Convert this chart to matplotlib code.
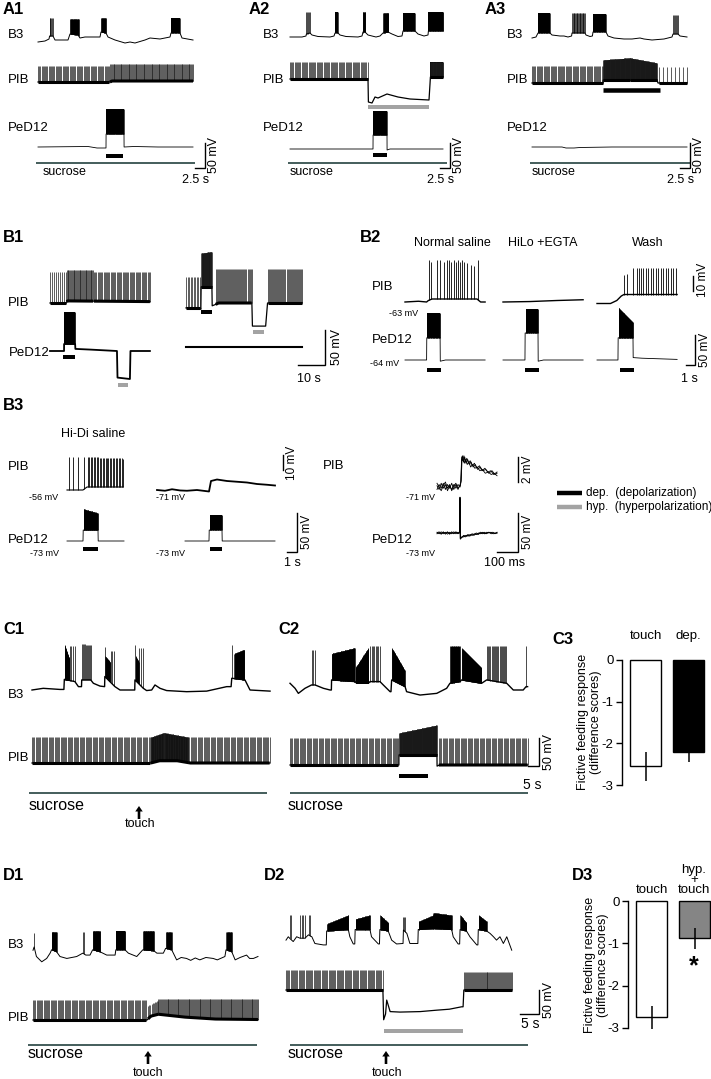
import numpy as np
import matplotlib
matplotlib.use('Agg')
import matplotlib.pyplot as plt

plt.rcParams['font.family'] = ['Liberation Sans', 'DejaVu Sans']
plt.rcParams['axes.unicode_minus'] = False

W, H = 711, 1079

# ===================== DATA =====================
# traces: knots = (time, potential rel. rest); bursts = (t_start, t_end, peak_start, peak_end, n_spikes)
# ---- A (s, mV)
A1_B3 = [(0,-2),(1.75,0),(2.75,4),(2.9,10),(3.75,10),(4.25,2),(7.5,2),(8,14),(10,12),(10.5,6),(11.75,8),(15.5,8),(15.75,18),(17,16),(17.5,8),(19.25,2),(21.75,-4),(23,-2),(24.25,-4),(25.5,-1),(26.75,2),(28,6),(30.5,4),(33,8),(33.25,16),(35.5,16),(36,6),(38.75,2)]
A1_B3_b = [(2.9,3.7,46,46,5),(8,10.2,44,44,16),(15.75,17,46,46,10),(33.25,35.5,46,46,16)]
A1_PIB = [(0,0),(18,0),(18.5,2),(38.75,2)]
A1_PIB_b = [(0,17.8,32,32,62),(18,38.75,36,36,95)]
A1_PeD = [(0,0),(12.5,1),(14.75,-2),(17,-2),(17.02,26),(21.5,26),(21.52,0),(24,1),(30,0),(38.75,0)]
A1_PeD_b = [(17.1,21.4,76,76,50)]
A2_B3 = [(0,0),(3,0),(4,2),(4.1,6),(5.0,8),(5.5,4),(7,1),(10,0),(11,2),(11.25,8),(12,8),(12.5,4),(14,1),(17,0),(18,2),(18.25,10),(18.75,10),(19.5,4),(21.5,0),(22.5,2),(23.25,8),(24.5,10),(25.5,6),(27,1),(28,2),(28.25,12),(31.25,12),(32,6),(33.5,2),(34.5,4),(34.6,12),(38.25,12)]
A2_B3_b = [(4.1,4.9,50,50,5),(11.3,12,50,50,5),(18.2,18.8,50,50,5),(23.3,24.6,48,48,12),(28.3,31.2,48,48,28),(34.6,38.25,50,50,36)]
A2_PIB = [(0,0),(19.5,0),(19.6,-46),(20.5,-48),(21.25,-36),(22,-38),(24.25,-30),(27,-36),(30,-40),(34.75,-42),(35,-10),(35.1,4),(38.25,4)]
A2_PIB_b = [(0,19.4,34,34,68),(35.1,38.25,34,34,30)]
A2_PeD = [(0,0),(20.75,0),(20.77,28),(24.25,28),(24.27,-2),(25,0),(38.25,0)]
A2_PeD_b = [(20.8,24.2,76,76,40)]
A3_B3 = [(0,-2),(1,0),(1.5,8),(4.5,8),(5,4),(7,2),(8,2),(9,0),(9.9,2),(10,8),(13.25,8),(13.5,4),(14.5,1),(15.1,2),(15.25,10),(18.5,10),(19,2),(20.5,-2),(23,-4),(25,-4),(27,-2),(28,-4),(30,-6),(33,-4),(34,-2),(35,0),(35.25,6),(36.5,6),(37,2),(38.75,0)]
A3_B3_b = [(1.5,4.5,48,48,20),(10,13.25,48,48,18),(15.25,18.5,46,46,22),(35.25,36.5,44,44,6)]
A3_PIB = [(0,0),(17.75,0),(17.8,6),(31.25,6),(31.5,0),(38.75,0)]
A3_PIB_b = [(0,17.7,34,34,62),(17.8,24.5,46,50,60),(24.5,31.2,50,40,60),(31.8,38.75,32,32,8)]
A3_PeD = [(0,0),(7.5,0),(8.5,-2),(10.5,-2),(12,-1),(20,0),(38.75,0)]

# ---- B1 (s, mV)
B1L_PIB = [(0,0),(6,0),(6.3,3),(37,2)]
B1L_PIB_b = [(0,5.9,44,44,9),(6.2,16,47,47,32),(16.3,37,44,44,48)]
B1L_PeD = [(0,0),(5.2,0),(5.22,10),(9.3,10),(9.4,3),(15,2),(24.8,0),(25,-38),(29.6,-40),(29.8,0),(37,0)]
B1L_PeD_b = [(5.3,9.2,56,56,25)]
B1R_PIB = [(0,-7),(5.2,-7),(5.5,-9),(5.6,23),(9.6,23),(9.7,-4),(11,-2),(12,0),(24.4,0),(24.6,-33),(29.5,-33),(30.2,0),(43,0)]
B1R_PIB_b = [(0,5.1,37,37,10),(5.7,9.5,71,73,30),(11,24.3,49,49,36),(30.3,43,49,49,34)]
B1R_PeD = [(0,0),(43,0)]

# ---- B2 (s, mV)
B2N_PIB = [(0,0),(1.5,0.5),(2.4,0),(2.6,1),(3,2),(8,2),(8.4,0),(8.9,0)]
B2N_PIB_spk = [2.67,2.89,3.56,3.89,4.33,4.67,4.89,5.11,5.44,5.67,5.89,6.11,6.33,6.56,6.89,7.33,7.67,8.11]
B2N_PIB_pk = [28,27,28,28,27,28,28,27,28,27,28,27,28,27,26,25,24,28]
B2H_PIB = [(0,0),(3,0.3),(6,1),(8.9,1.5)]
B2W_PIB = [(0,-1),(1.5,-1),(2.2,1),(2.7,4),(3.0,5),(8.9,5)]
B2W_PIB_spk = [3.0,3.33,4.0,4.44,4.67,4.89,5.11,5.44,5.67,6.0,6.22,6.56,6.78,7.11,7.33,7.67,7.89,8.22,8.44,8.78]
B2W_PIB_pk = [18,19,23,23,23,23,23,23,23,23,23,23,23,23,23,23,23,23,23,23]
B2N_PeD = [(0,0),(2.4,0),(2.42,37),(3.9,37),(3.92,-2),(4.5,0),(8.9,0)]
B2N_PeD_b = [(2.45,3.87,78,78,22)]
B2H_PeD = [(0,0),(2.44,0),(2.46,45),(3.89,45),(3.91,-2),(4.5,0),(8.9,0)]
B2H_PeD_b = [(2.5,3.86,85,85,20)]
B2W_PeD = [(0,0),(2.33,0),(2.35,37),(4.0,37),(4.02,4),(5,3),(8.9,1)]
B2W_PeD_b = [(2.4,3.97,87,63,24)]

# ---- B3 (s, mV) and right (ms, mV)
B3L_PIB = [(0,0),(1.6,0),(2.0,2),(5.6,2)]
B3L_PIB_b = [(0.2,0.2,22,22,1),(0.6,0.6,22,22,1),(1.1,1.1,22,22,1),(1.7,1.7,22,22,1),(2.1,5.6,22,21,25)]
B3M_PIB = [(0,0),(0.8,-0.5),(1.5,0.5),(2.3,-0.3),(3,-0.5),(4,0),(5.2,-1),(5.4,6),(6,7),(7,6),(8,5.5),(9,5),(10,4),(11,3.5),(11.8,3)]
B3L_PeD = [(0,0),(1.6,0),(1.62,14),(3.1,14),(3.12,0),(5.7,0)]
B3L_PeD_b = [(1.65,3.05,41,36,22)]
B3M_PeD = [(2.8,0),(5.2,0),(5.22,14),(6.5,14),(6.52,0),(11.8,0)]
B3M_PeD_b = [(5.25,6.45,33,33,20)]
B3R_PIB_sweeps = [
    [(0,0.1),(10,-0.2),(20,0.3),(30,-0.1),(40,0.2),(50,-0.3),(60,0.1),(70,-0.2),(80,0.2),(90,-0.1),(100,0.2),(110,0),(113,0.3),(117,2.2),(121,2.5),(126,2.0),(132,2.4),(138,1.9),(146,2.2),(154,1.8),(162,2.0),(172,1.6),(182,1.8),(194,1.4),(206,1.6),(218,1.3),(232,1.4),(246,1.1),(262,1.3),(276,1.0),(286,1.1)],
    [(0,-0.2),(10,0.2),(20,-0.1),(30,0.3),(40,-0.2),(50,0.2),(60,-0.1),(70,0.3),(80,-0.2),(90,0.2),(100,-0.1),(110,0.1),(114,0.4),(118,2.4),(123,2.1),(128,2.5),(135,2.0),(142,2.3),(150,1.9),(158,2.1),(168,1.7),(178,1.9),(190,1.5),(202,1.7),(214,1.3),(228,1.5),(242,1.2),(256,1.3),(270,1.0),(286,1.2)],
    [(0,0.3),(10,0),(20,-0.3),(30,0.1),(40,0.4),(50,-0.1),(60,0.2),(70,-0.3),(80,0.1),(90,0.3),(100,-0.2),(110,0.2),(115,0.5),(119,2.1),(124,2.3),(130,1.9),(136,2.2),(144,1.8),(152,2.0),(160,1.6),(170,1.8),(180,1.5),(192,1.6),(204,1.3),(216,1.4),(230,1.1),(244,1.2),(258,1.0),(272,1.1),(286,0.9)]]
B3R_PeD_sweeps = [
    [(0,0),(10,1.5),(20,-1),(30,1.5),(40,-1.5),(50,1),(60,-1),(70,1.5),(80,-1),(90,1),(100,-1),(108,0.5),(109.5,46),(111,-8),(116,-6),(126,-4),(136,-5),(146,-3),(156,-4),(166,-2),(176,-3),(186,-1),(196,-2),(206,0),(216,-1),(226,1),(236,-1),(246,1),(256,0),(266,1),(276,-1),(286,1)],
    [(0,1),(10,-1),(20,1.5),(30,-1),(40,1),(50,-1.5),(60,1),(70,-1),(80,1.5),(90,-1),(100,1),(108,0),(109.5,44),(111,-7),(118,-5),(128,-5),(138,-3),(148,-4),(158,-2),(168,-3),(178,-1),(188,-2),(198,0),(208,-1),(218,1),(228,-1),(238,0),(248,1),(258,-1),(268,0),(286,0)],
    [(0,-1),(10,0.5),(20,-1.5),(30,1),(40,-0.5),(50,1.5),(60,-1.5),(70,0.5),(80,-0.5),(90,1.5),(100,-0.5),(108,1),(109.5,45),(111,-7),(117,-6),(127,-3),(137,-4),(147,-2),(157,-3),(167,-1),(177,-2),(187,0),(197,-1),(207,1),(217,0),(227,-1),(237,1),(247,0),(257,1),(267,-1),(286,0)]]

# ---- C (s, mV)
C1_B3 = [(0,0),(5.1,3),(12.7,1),(14.5,1),(14.7,19),(19.5,15),(21.1,6),(22.5,6),(22.6,18),(26.7,18),(27.9,12),(30.9,7),(33,6),(33.1,24),(37.7,6),(40,0),(46.7,0),(46.8,18),(50.6,3),(52.1,-1),(54.4,0),(55.9,9),(58.2,3),(61.2,-1),(70.3,-3),(79.4,-2),(88.5,6),(90.5,6),(90.8,21),(96.8,18),(99.1,0),(108.2,-2)]
C1_B3_b = [(14.8,17,80,55,25),(17.2,19.4,78,78,4),(22.7,26.6,82,80,10),(33.2,33.2,77,77,1),(33.4,35.5,60,50,15),(35.7,37.3,70,70,3),(46.9,46.9,80,80,1),(47.1,48.5,60,50,12),(48.7,50.3,75,75,3),(90.9,90.9,80,80,1),(92,96.5,65,72,25)]
C1_PIB = [(0,0),(54,0),(58,4),(66,4),(72,0),(108,0)]
C1_PIB_b = [(0,53.5,46,46,100),(54,60,46,54,20),(60,71,54,46,35),(71,108,46,46,70)]
C2_B3 = [(0,12),(2.3,3),(3.8,-6),(6.8,3),(9.8,9),(11.4,9),(15.2,3),(18.2,0),(18.8,0),(18.9,18),(29.5,15),(30.3,12),(35.6,12),(36.4,15),(40.9,15),(42.4,9),(45.5,-3),(45.9,-3),(46.2,18),(52.3,6),(53,-3),(59.1,-9),(66.7,-6),(71.2,3),(72.7,12),(77.3,15),(78,18),(87.1,12),(89.4,18),(98.5,12),(101.5,0),(106,0),(107.3,6),(108,6)]
C2_B3_b = [(9.8,11.4,72,72,3),(19,29.4,65,75,60),(29.8,35.6,40,75,35),(36.5,40.8,78,78,8),(46.3,52.2,75,35,30),(72.8,77.2,78,78,15),(78.1,87,75,40,40),(89.5,98.4,78,78,18),(107.3,107.3,78,78,1)]
C2_PIB = [(0,0),(49.5,0),(49.52,18),(66.8,18),(66.85,-2),(68,0),(108,0)]
C2_PIB_b = [(0,49.3,48,48,92),(49.6,66.7,57,71,80),(67.7,108,48,48,75)]

# ---- D (s, mV)
D1_B3 = [(0,14),(0.3,21),(0.9,1),(2.3,-10),(3.6,-3),(4.5,8),(4.9,15),(6.2,11),(7.1,1),(8.9,-3),(11.5,1),(13.1,8),(13.9,4),(15,4),(15.7,15),(17.6,11),(19.4,4),(21.6,4),(21.8,15),(24.2,15),(25.1,8),(27.3,1),(28.9,15),(31.8,13),(32.6,8),(34.3,8),(34.9,18),(36.5,15),(37.8,-6),(39,-1),(40.4,-3),(41.5,-7),(42.7,-2),(43.9,-6),(45.5,-1),(47.4,-3),(48.5,-6),(50.5,1),(50.8,15),(52.3,11),(53.2,-6),(54.5,-1),(56.2,4),(57,-3),(58,-3),(59.2,1)]
D1_B3_b = [(0.2,0.2,50,50,1),(4.9,6.2,52,52,12),(13.1,13.5,52,52,2),(15.8,17.6,54,54,20),(21.9,24.2,54,54,22),(29,31.8,54,54,28),(35,36.5,52,52,10),(50.9,52.3,52,52,10)]
D1_PIB = [(0,0),(30,0),(31,8),(33,12),(40,6),(48,2),(59.2,1)]
D1_PIB_b = [(0,29.8,42,42,98),(30.3,33,30,40,10),(33,59.2,44,44,110)]
D2_B3 = [(0,6),(0.6,13),(1.2,8),(1.9,3),(2.8,13),(3.7,10),(5.0,10),(5.9,17),(6.3,15),(6.8,13),(7.6,-1),(9.8,-4),(10.6,-4),(10.7,25),(16.4,28),(16.8,13),(17.7,-2),(18.1,-2),(18.2,28),(22.1,28),(22.5,13),(24.3,-2),(24.6,-2),(24.7,28),(26.9,25),(27.8,6),(29.1,-2),(30.8,-1),(30.9,27),(31.8,20),(32.6,-1),(34.7,-1),(34.8,28),(38.8,30),(43.6,28),(44.0,13),(45.3,-2),(45.7,-2),(45.8,28),(47.5,25),(48.4,13),(50.2,-4),(50.5,-4),(50.6,28),(52.8,25),(53.7,20),(54.6,13),(55.4,6),(56.3,13),(57.2,-1),(58.1,13),(59.4,-15)]
D2_B3_b = [(1.0,1.2,58,58,2),(3.7,5.0,58,58,4),(6.0,6.3,58,58,2),(10.8,16.4,40,58,45),(18.3,22.1,50,58,30),(24.8,26.9,58,42,20),(30.9,31.4,55,55,3),(34.9,38.8,45,58,30),(38.8,43.6,63,58,35),(45.9,47.5,58,42,15),(50.7,52.8,58,45,18)]
D2_PIB = [(0,0),(25.5,0),(25.7,-62),(26.2,-50),(26.5,-21),(27.4,-45),(30,-46),(35.3,-45),(39.7,-42),(43,-40),(46.2,-35),(46.6,-35),(46.8,0),(59.4,0)]
D2_PIB_b = [(0,25.4,42,42,85),(46.9,59.4,38,38,50)]

# ---- bar charts
C3_groups = ['touch', 'dep.']
C3_means = [-2.55, -2.2]
C3_sem = [0.35, 0.25]
D3_groups = ['touch', 'hyp.\n+\ntouch']
D3_means = [-2.75, -0.88]
D3_sem = [0.27, 0.25]
yticks = [0, -1, -2, -3]
ytick_labels = ['0', '-1', '-2', '-3']

# ===================== DRAWING =====================
fig = plt.figure(figsize=(W/100, H/100), dpi=100)
ov = fig.add_axes([0, 0, 1, 1])
ov.set_xlim(0, W); ov.set_ylim(H, 0); ov.axis('off')

DARK = '#35504e'
GRAY = '#a3a3a3'
SPK = '#1c1c1c'


def tax(x0, yb, pxs, pxmv, T):
    ax = fig.add_axes([x0/W, 1-(yb+60)/H, T*pxs/W, 170/H])
    ax.set_xlim(0, T); ax.set_ylim(-60/pxmv, 110/pxmv); ax.axis('off')
    ax._pxs = pxs
    return ax


def trace(ax, knots, groups=(), lw=0.7, slw=0.45, color='k', scolor=None, band_lw=None):
    scolor = scolor or color
    k = np.asarray(knots, float)
    ax.plot(k[:, 0], k[:, 1], color=color, lw=lw, clip_on=False, solid_joinstyle='round')
    for (t0, t1, p0, p1, n) in groups:
        ts = np.linspace(t0, t1, int(n)); ps = np.linspace(p0, p1, int(n))
        base = np.interp(ts, k[:, 0], k[:, 1])
        ax.vlines(ts, base, ps, colors=scolor, lw=slw, clip_on=False)
        if band_lw and n > 3:
            ax.plot(ts, base, color=color, lw=band_lw, clip_on=False, solid_capstyle='butt')
        if n > 2 and (t1 - t0) * ax._pxs / (n - 1) < 0.75:
            ax.fill_between(ts, base, ps, color='k', lw=0, clip_on=False)


def spikes(ax, knots, times, peaks, lw=0.6):
    k = np.asarray(knots, float)
    base = np.interp(times, k[:, 0], k[:, 1])
    ax.vlines(times, base, peaks, colors='k', lw=lw, clip_on=False)


def stim(ax, t0, t1, v, color='k', px=4):
    ax.plot([t0, t1], [v, v], color=color, lw=px*0.72, solid_capstyle='butt', clip_on=False)


def T(x, y, s, size=9.5, ha='left', va='center', **kw):
    ov.text(x, y, s, fontsize=size, ha=ha, va=va, **kw)


def P(x, y, s):
    ov.text(x, y, s, fontsize=12, fontweight='bold', ha='left', va='center')


def hline(x0, x1, y, color='k', lw=1.0):
    ov.plot([x0, x1], [y, y], color=color, lw=lw, solid_capstyle='butt')


def scalebar(xh0, xv, yh, yv0, lw=1.0):
    ov.plot([xh0, xv, xv], [yh, yh, yv0], color='k', lw=lw, solid_joinstyle='miter')


def vbar(x, y0, y1, lw=1.0):
    ov.plot([x, x], [y0, y1], color='k', lw=lw)


def arrow(x, ybot, ytip):
    ov.arrow(x, ybot, 0, ytip-ybot, width=2.6, head_width=7.5, head_length=5.5,
             length_includes_head=True, color='k', lw=0)

PIB = dict(lw=0.9, slw=0.5, scolor=SPK, band_lw=2.2)

# ---------- A ----------
for (x0, lab, yb3, ybp, ybd, B3, B3b, PIBk, PIBb, PeD, PeDb) in [
        (38, 'A1', 41, 82, 147, A1_B3, A1_B3_b, A1_PIB, A1_PIB_b, A1_PeD, A1_PeD_b),
        (290, 'A2', 37, 79, 149, A2_B3, A2_B3_b, A2_PIB, A2_PIB_b, A2_PeD, A2_PeD_b),
        (532, 'A3', 37, 83, 147, A3_B3, A3_B3_b, A3_PIB, A3_PIB_b, A3_PeD, [])]:
    Tl = B3[-1][0]
    a = tax(x0, yb3, 4, 0.5, Tl); trace(a, B3, B3b, lw=0.7, slw=0.5)
    b = tax(x0, ybp, 4, 0.5, Tl); trace(b, PIBk, PIBb, **PIB)
    c = tax(x0, ybd, 4, 0.5, Tl); trace(c, PeD, PeDb, lw=0.6, slw=0.5)
    if lab == 'A1':
        stim(c, 17, 21.25, -18)
    if lab == 'A2':
        stim(b, 19.5, 34.75, -56, GRAY)
        stim(c, 20.75, 24.25, -12)
    if lab == 'A3':
        stim(b, 17.75, 32, -14, 'k', 4.5)

P(3, 10, 'A1'); P(249, 10, 'A2'); P(485, 10, 'A3')
for xl in (8, 263, 507):
    T(xl, 35, 'B3'); T(xl, 80, 'PIB'); T(xl, 128, 'PeD12')
for (x0, x1, xs, xb) in [(36, 195, 43, 205), (288, 447, 290, 450), (530, 690, 532, 690)]:
    hline(x0, x1, 163, DARK, 1.3)
    T(xs, 172, 'sucrose', 9)
    scalebar(xb-10, xb, 168, 143)
    T(xb+9, 155, '50 mV', 9, ha='center', rotation=90)
    T(xb-9, 180, '2.5 s', 9, ha='center')

# ---------- B1 ----------
P(3, 237, 'B1')
a = tax(50, 303, 2.7, 0.7, 37); trace(a, B1L_PIB, B1L_PIB_b, **PIB)
b = tax(50, 351, 2.7, 0.7, 37); trace(b, B1L_PeD, B1L_PeD_b, lw=1.3, slw=0.6)
stim(b, 4.8, 9.3, -9); stim(b, 25.2, 28.9, -49, GRAY)
c = tax(186, 303, 2.7, 0.7, 43); trace(c, B1R_PIB, B1R_PIB_b, **PIB)
stim(c, 5.5, 9.6, -13); stim(c, 24.8, 28.9, -41, GRAY)
d = tax(186, 347, 2.7, 0.7, 43); trace(d, B1R_PeD, [], lw=1.5)
T(8, 303, 'PIB'); T(9, 353, 'PeD12')
scalebar(298, 325, 365, 330)
T(309, 379, '10 s', 9, ha='center'); T(337, 347, '50 mV', 9, ha='center', rotation=90)

# ---------- B2 ----------
P(360, 237, 'B2')
T(452, 243, 'Normal saline', 9, ha='center')
T(543, 243, 'HiLo +EGTA', 9, ha='center')
T(648, 243, 'Wash', 9, ha='center')
for (x0, PIBk, spk, pk, PeD, PeDb, bt) in [
        (405, B2N_PIB, B2N_PIB_spk, B2N_PIB_pk, B2N_PeD, B2N_PeD_b, (2.44, 3.99)),
        (503, B2H_PIB, [], [], B2H_PeD, B2H_PeD_b, (2.44, 4.0)),
        (597, B2W_PIB, B2W_PIB_spk, B2W_PIB_pk, B2W_PeD, B2W_PeD_b, (2.55, 4.1))]:
    a = tax(x0, 302, 9, 1.5, 8.9); trace(a, PIBk, [], lw=1.0)
    if spk:
        spikes(a, PIBk, spk, pk, lw=0.6)
    b = tax(x0, 360, 9, 0.6, 8.9); trace(b, PeD, PeDb, lw=0.6, slw=0.6)
    stim(b, bt[0], bt[1], -17)
T(372, 287, 'PIB'); T(372, 340, 'PeD12')
T(404, 313, '-63 mV', 6.5, ha='center'); T(385, 363, '-64 mV', 6.5, ha='center')
vbar(693, 276, 291)
T(703, 280, '10 mV', 8.5, ha='center', rotation=90)
scalebar(686, 695, 365, 335)
T(689, 379, '1 s', 9, ha='center'); T(705, 350, '50 mV', 8.5, ha='center', rotation=90)

# ---------- B3 ----------
P(3, 406, 'B3')
T(93, 434, 'Hi-Di saline', 9, ha='center')
a = tax(67, 490, 10, 1.5, 5.6); trace(a, B3L_PIB, B3L_PIB_b, lw=0.8, slw=0.6)
b = tax(157, 490, 10, 1.5, 11.8); trace(b, B3M_PIB, [], lw=1.3)
c = tax(67, 541, 10, 0.78, 5.7); trace(c, B3L_PeD, B3L_PeD_b, lw=0.6, slw=0.6)
stim(c, 1.6, 3.1, -10)
d = tax(157, 541, 10, 0.78, 11.8); trace(d, B3M_PeD, B3M_PeD_b, lw=0.6, slw=0.6)
stim(d, 5.3, 6.5, -10)
e = tax(437, 487, 0.21, 12.5, 286)
for s in B3R_PIB_sweeps:
    trace(e, s, [], lw=0.6)
f = tax(437, 533, 0.21, 0.78, 286)
for s in B3R_PeD_sweeps:
    trace(f, s, [], lw=0.6)
T(8, 467, 'PIB'); T(8, 540, 'PeD12')
T(44, 497, '-56 mV', 6.5, ha='center'); T(44, 553, '-73 mV', 6.5, ha='center')
T(171, 497, '-71 mV', 6.5, ha='center'); T(171, 553, '-73 mV', 6.5, ha='center')
T(323, 466, 'PIB'); T(372, 540, 'PeD12')
T(420, 497, '-71 mV', 6.5, ha='center'); T(420, 553, '-73 mV', 6.5, ha='center')
vbar(283, 455, 470)
T(292, 463, '10 mV', 8.5, ha='center', rotation=90)
scalebar(287, 297, 552, 513)
T(292, 563, '1 s', 9, ha='center'); T(307, 532, '50 mV', 8.5, ha='center', rotation=90)
vbar(518, 457, 482)
T(528, 469, '2 mV', 8.5, ha='center', rotation=90)
scalebar(497, 518, 552, 513)
T(505, 563, '100 ms', 9, ha='center'); T(528, 532, '50 mV', 8.5, ha='center', rotation=90)

# legend
hline(557, 582, 493, 'k', 3.2); hline(557, 582, 507, GRAY, 3.2)
T(586, 493, 'dep.  (depolarization)', 8.5)
T(586, 507, 'hyp.  (hyperpolarization)', 8.5)

# ---------- C ----------
P(3, 630, 'C1'); P(278, 630, 'C2')
a = tax(32, 690, 2.2, 0.56, 108.2); trace(a, C1_B3, C1_B3_b, lw=1.0, slw=0.5)
b = tax(32, 763, 2.2, 0.56, 108.2); trace(b, C1_PIB, C1_PIB_b, **PIB)
c = tax(290, 690, 2.2, 0.56, 108); trace(c, C2_B3, C2_B3_b, lw=1.0, slw=0.5)
d = tax(290, 765, 2.2, 0.56, 108); trace(d, C2_PIB, C2_PIB_b, **PIB)
stim(d, 49.5, 62.7, -20)
T(8, 695, 'B3'); T(8, 758, 'PIB')
hline(29, 267, 793, DARK, 1.3); hline(290, 528, 793, DARK, 1.3)
T(29, 805, 'sucrose', 11.5); T(288, 805, 'sucrose', 11.5)
arrow(139, 819, 806)
T(140, 824, 'touch', 9, ha='center')
scalebar(528, 539, 766, 738)
T(532, 785, '5 s', 10, ha='center'); T(549, 752, '50 mV', 9, ha='center', rotation=90)

# ---------- D ----------
P(3, 875, 'D1'); P(264, 875, 'D2')
a = tax(33, 957, 3.8, 0.48, 59.2); trace(a, D1_B3, D1_B3_b, lw=0.7, slw=0.5)
b = tax(33, 1020, 3.8, 0.48, 59.2); trace(b, D1_PIB, D1_PIB_b, **PIB)
c = tax(286, 943, 3.8, 0.48, 59.4); trace(c, D2_B3, D2_B3_b, lw=0.7, slw=0.5)
d = tax(286, 990, 3.8, 0.48, 59.4); trace(d, D2_PIB, D2_PIB_b, **PIB)
stim(d, 25.9, 46.7, -85, GRAY)
T(8, 945, 'B3'); T(8, 1018, 'PIB')
hline(28, 257, 1045, DARK, 1.3); hline(290, 528, 1045, DARK, 1.3)
T(28, 1054, 'sucrose', 11.5); T(288, 1054, 'sucrose', 11.5)
arrow(148, 1064, 1051); arrow(386, 1064, 1051)
T(148, 1073, 'touch', 9, ha='center'); T(387, 1073, 'touch', 9, ha='center')
scalebar(520, 539, 1014, 990)
T(530, 1024, '5 s', 10, ha='center'); T(549, 1000, '50 mV', 9, ha='center', rotation=90)


# ---------- C3 / D3 bar charts ----------
def barchart(x_axis, y0, y3, means, sems, colors):
    ax = fig.add_axes([x_axis/W, 1-y3/H, 86/W, (y3-y0)/H])
    ax.bar([0, 1], means, width=0.72, color=colors, edgecolor='k', lw=1.0, clip_on=False, zorder=2)
    ax.errorbar([0, 1], means, yerr=sems, fmt='none', ecolor='k', elinewidth=1.1, capsize=0, zorder=3, clip_on=False)
    ax.set_xlim(-0.55, 1.45); ax.set_ylim(-3, 0)
    for s in ('top', 'right', 'bottom'):
        ax.spines[s].set_visible(False)
    ax.spines['left'].set_linewidth(1.0)
    ax.spines['left'].set_bounds(-3, 0)
    ax.set_xticks([])
    ax.set_yticks(yticks); ax.set_yticklabels(ytick_labels, fontsize=9.5)
    ax.tick_params(axis='y', direction='out', length=4, width=1.0, pad=2)
    ax.patch.set_visible(False)
    return ax

barchart(622, 660, 785, C3_means, C3_sem, ['white', 'black'])
P(552, 640, 'C3')
T(646, 636, C3_groups[0], 9.5, ha='center'); T(688, 636, C3_groups[1], 9.5, ha='center')
T(583, 722, 'Fictive feeding response', 9, ha='center', rotation=90)
T(596, 722, '(difference scores)', 9, ha='center', rotation=90)

barchart(628, 901, 1028, D3_means, D3_sem, ['white', '#858585'])
P(572, 875, 'D3')
T(652, 890, D3_groups[0], 9.5, ha='center')
T(694, 880, D3_groups[1], 9.5, ha='center', linespacing=0.78)
T(590, 965, 'Fictive feeding response', 9, ha='center', rotation=90)
T(603, 965, '(difference scores)', 9, ha='center', rotation=90)
T(694, 966, '*', 18, ha='center', fontweight='bold')

fig.savefig('out.png', dpi=100)
